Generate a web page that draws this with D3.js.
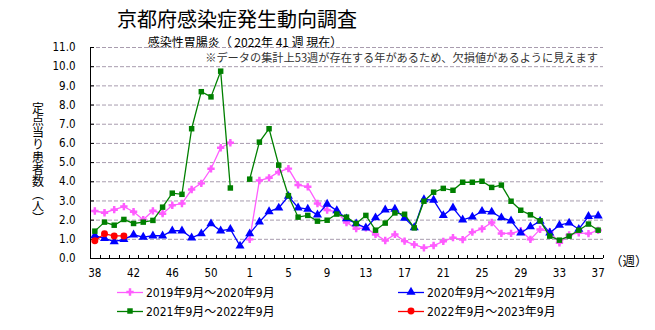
<!DOCTYPE html>
<html><head><meta charset="utf-8">
<script src="https://cdn.jsdelivr.net/npm/d3@7"></script>
<style>
html,body{margin:0;padding:0;background:#fff;}
svg{display:block;}
text{font-family:"Liberation Sans Narrow","DejaVu Sans Condensed","Noto Sans CJK JP",sans-serif;}
.jp{font-family:"Noto Sans CJK JP",sans-serif;}
</style></head>
<body>
<svg id="c" width="655" height="330"></svg>
<script>
const weeks = ["38","39","40","41","42","43","44","45","46","47","48","49","50","51","52","53",
  "1","2","3","4","5","6","7","8","9","10","11","12","13","14","15","16","17","18","19","20",
  "21","22","23","24","25","26","27","28","29","30","31","32","33","34","35","36","37"];
const tickLabels = ["38","42","46","50","1","5","9","13","17","21","25","29","33","37"];
const yTicks = [0,1,2,3,4,5,6,7,8,9,10,11];

const s2019 = [2.45,2.36,2.52,2.68,2.41,2.00,2.46,2.31,2.75,2.84,3.57,3.89,4.65,5.75,6.01,null,
  0.97,4.04,4.18,4.49,4.66,3.81,3.71,2.84,2.50,2.40,1.85,1.53,1.57,1.23,0.91,1.23,0.88,0.70,0.53,0.65,
  0.87,1.06,0.96,1.35,1.52,1.85,1.28,1.28,1.42,0.97,1.49,1.37,0.79,1.20,1.31,1.27,1.44];
const s2020 = [1.17,1.02,0.86,0.97,1.21,1.09,1.16,1.16,1.42,1.42,1.05,1.27,1.79,1.42,1.50,0.63,
  1.27,1.88,2.42,2.61,3.22,2.62,2.55,2.25,2.81,2.47,2.05,1.79,1.57,2.10,2.51,2.55,2.08,1.59,3.05,3.02,
  2.22,2.62,1.99,2.14,2.44,2.40,2.10,1.94,1.31,1.63,1.92,1.31,1.71,1.83,1.50,2.17,2.20];
const s2021 = [1.40,1.87,1.71,2.01,1.80,1.87,1.96,2.65,3.38,3.32,6.74,8.67,8.40,9.74,3.65,null,
  4.11,6.04,6.74,4.84,3.25,2.13,2.22,1.92,1.97,2.29,2.13,1.80,2.22,1.45,1.82,2.35,2.28,1.57,2.96,3.43,
  3.63,3.53,3.95,3.95,4.00,3.68,3.80,2.96,2.49,2.25,1.94,1.14,0.93,1.14,1.45,1.77,1.45];
const s2022 = [0.90,1.26,1.15,1.15];

const seriesNames = ["2019年9月～2020年9月","2020年9月～2021年9月","2021年9月～2022年9月","2022年9月～2023年9月"];

const svg = d3.select("#c");
const L = 90, R = 603, T = 47, B = 258;
const x = d3.scaleBand().domain(weeks).range([L, R]).padding(0);
const bw = x.bandwidth();
const xc = w => x(w) + bw / 2;
const y = d3.scaleLinear().domain([0, 11]).range([B, T]);

// titles
svg.append("text").attr("class","jp").attr("x",237).attr("y",26.5).attr("text-anchor","middle")
  .attr("font-size",20).attr("fill","#000").text("京都府感染症発生動向調査");
svg.append("text").attr("class","jp").attr("x",245).attr("y",46.5).attr("text-anchor","middle")
  .attr("font-size",12).attr("fill","#000").text("感染性胃腸炎（ 2022年 41 週 現在）");
svg.append("text").attr("class","jp").attr("x",598).attr("y",62).attr("text-anchor","end")
  .attr("font-size",11.2).attr("fill","#333").text("※データの集計上53週が存在する年があるため、欠損値があるように見えます");

// gridlines
svg.append("g").selectAll("line").data(yTicks.filter(d => d > 0)).join("line")
  .attr("x1", L).attr("x2", R).attr("y1", d => y(d) + 0.5).attr("y2", d => y(d) + 0.5)
  .attr("stroke", "#a89cae").attr("stroke-width", 1).attr("stroke-dasharray", "4,2");

// y axis
const yAxis = d3.axisLeft(y).tickValues(yTicks).tickFormat(d3.format(".1f")).tickSize(0).tickPadding(15);
const gy = svg.append("g").attr("transform", `translate(${L + 0.5},0)`).call(yAxis);
gy.select(".domain").remove();
gy.selectAll("text").attr("font-size", 11.5).attr("fill", "#000");
svg.append("line").attr("x1", L + 0.5).attr("x2", L + 0.5).attr("y1", T).attr("y2", B)
  .attr("stroke", "#000");
svg.append("g").selectAll("line").data(yTicks).join("line")
  .attr("x1", L).attr("x2", L + 4).attr("y1", d => y(d) + 0.5).attr("y2", d => y(d) + 0.5).attr("stroke", "#000");

// x axis
svg.append("line").attr("x1", L).attr("x2", R).attr("y1", B + 0.5).attr("y2", B + 0.5).attr("stroke", "#000");
const bounds = weeks.map(w => x(w)).concat([R]);
svg.append("g").selectAll("line").data(bounds).join("line")
  .attr("x1", d => Math.round(d) + 0.5).attr("x2", d => Math.round(d) + 0.5)
  .attr("y1", B - 3).attr("y2", B).attr("stroke", "#000");
svg.append("g").selectAll("text").data(tickLabels).join("text")
  .attr("x", d => xc(d)).attr("y", 277).attr("text-anchor", "middle")
  .attr("font-size", 11.5).attr("fill", "#000").text(d => d);
svg.append("text").attr("class","jp").attr("x", 610).attr("y", 266).attr("font-size", 12.5)
  .attr("fill","#000").text("（週）");

// y title vertical
svg.append("text").attr("class","jp")
  .attr("x", 38).attr("y", 102)
  .attr("font-size", 12).attr("fill","#000")
  .style("writing-mode","vertical-rl").style("text-orientation","upright")
  .style("letter-spacing","0.3px")
  .text("定点当り患者数（人）");

// series
const series = [
  {data: s2019, color: "#ff5cff", sym: "cross", size: 30},
  {data: s2020, color: "#0000ff", sym: "tri", size: 36},
  {data: s2021, color: "#008000", sym: "sq", size: 30},
  {data: s2022, color: "#ff0000", sym: "circ", size: 38}
];
const symMap = {cross: d3.symbolCross, tri: d3.symbolTriangle, sq: d3.symbolSquare, circ: d3.symbolCircle};
const line = d3.line().defined(d => d.v != null).x(d => xc(d.w)).y(d => y(d.v));

series.forEach(s => {
  const pts = s.data.map((v, i) => ({w: weeks[i], v: v}));
  svg.append("path").datum(pts).attr("d", line).attr("fill", "none")
    .attr("stroke", s.color).attr("stroke-width", 1.3);
  const sym = d3.symbol().type(symMap[s.sym]).size(s.size);
  const g = svg.append("g");
  g.selectAll("path.m").data(pts.filter(d => d.v != null)).join("path").attr("class","m")
    .attr("d", sym).attr("fill", s.color)
    .attr("transform", d => `translate(${xc(d.w)},${y(d.v)})`);
  if (s.sym === "cross") {
    g.selectAll("path.d").data(pts.filter(d => d.v != null)).join("path").attr("class","d")
      .attr("d", d3.symbol().type(d3.symbolDiamond).size(14)).attr("fill", s.color)
      .attr("transform", d => `translate(${xc(d.w)},${y(d.v)})`);
  }
});

// legend
const legPos = [[117, 292], [398, 292], [117, 311], [398, 311]];
series.forEach((s, i) => {
  const [lx, ly] = legPos[i];
  const g = svg.append("g").attr("transform", `translate(${lx},${ly})`);
  g.append("line").attr("x1", 0).attr("x2", 26).attr("y1", 0.5).attr("y2", 0.5)
    .attr("stroke", s.color).attr("stroke-width", 1.3);
  g.append("path").attr("d", d3.symbol().type(symMap[s.sym]).size(s.size)())
    .attr("fill", s.color).attr("transform", "translate(13,0)");
  g.append("text").attr("x", 29).attr("y", 5).attr("font-size", 12).attr("fill", "#000").text(seriesNames[i]);
});
</script>
</body></html>
